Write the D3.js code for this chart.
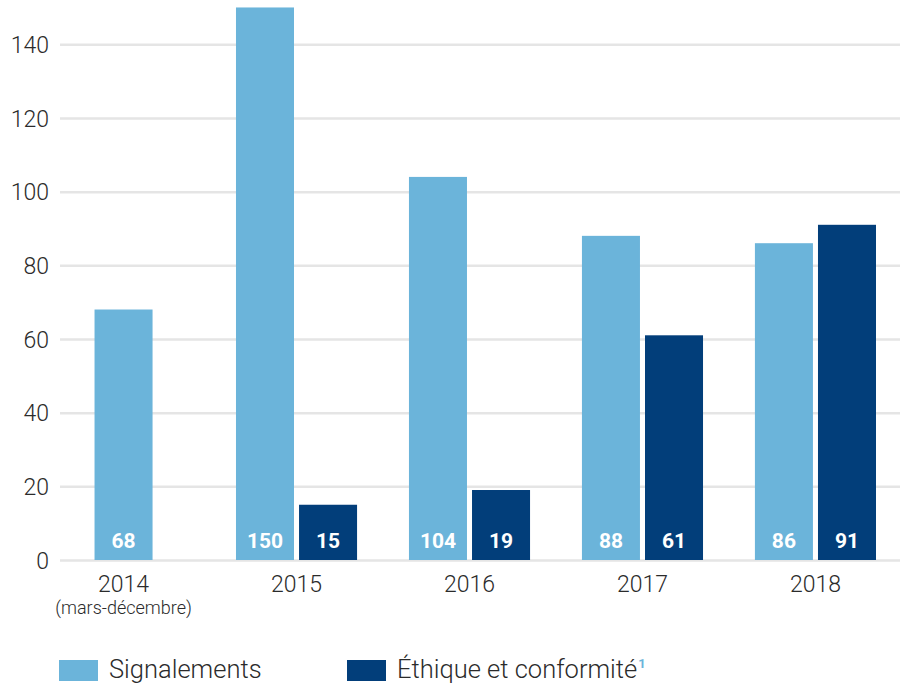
<!DOCTYPE html>
<html>
<head>
<meta charset="utf-8">
<script src="https://cdn.jsdelivr.net/npm/d3@7"></script>
<style>
  html, body { margin: 0; padding: 0; background: #fff; }
  svg { display: block; font-family: Roboto, "Open Sans", sans-serif; }
</style>
</head>
<body>
<svg id="chart" width="900" height="683"></svg>
<script>
// Report volumes per year, two series
const years = ["2014", "2015", "2016", "2017", "2018"];
const yearNotes = ["(mars-décembre)", "", "", "", ""];
const seriesNames = ["Signalements", "Éthique et conformité"];
const signalements = [68, 150, 104, 88, 86];
const ethique = [null, 15, 19, 61, 91];
const yTicks = [0, 20, 40, 60, 80, 100, 120, 140];
const colors = ["#6bb4da", "#023e7a"];

const svg = d3.select("#chart");

const y = d3.scaleLinear().domain([0, 140]).range([560, 44.3]);
const x = d3.scaleBand().domain(years).range([63, 876]).paddingInner(0.3).paddingOuter(0);
const xSub = d3.scaleBand().domain(seriesNames).range([0, x.bandwidth()]).paddingInner(0.08).paddingOuter(0);

// horizontal grid
const grid = svg.append("g")
  .attr("transform", "translate(60,0)")
  .call(d3.axisLeft(y).tickValues(yTicks).tickSize(-840).tickFormat(""));
grid.select(".domain").remove();
grid.selectAll(".tick line").attr("stroke", "#e5e5e5").attr("stroke-width", 2.5);

// y tick labels
const yAxis = svg.append("g")
  .attr("transform", "translate(49,0)")
  .call(d3.axisLeft(y).tickValues(yTicks).tickSize(0).tickPadding(0));
yAxis.select(".domain").remove();
yAxis.selectAll("text")
  .attr("font-family", "Roboto, sans-serif")
  .attr("font-weight", 300)
  .attr("font-size", 23)
  .attr("fill", "#2b2b2b")
  .attr("dy", "0.36em");

// bars
const rows = years.map((yr, i) => ({
  year: yr,
  values: [
    { name: seriesNames[0], value: signalements[i] },
    { name: seriesNames[1], value: ethique[i] }
  ].filter(d => d.value !== null)
}));

const groups = svg.append("g").selectAll("g.year")
  .data(rows).join("g")
  .attr("class", "year")
  .attr("transform", d => {
    // a year with a single series keeps its bar centred in the band
    const shift = d.values.length === 1 ? (x.bandwidth() - xSub.bandwidth()) / 2 : 0;
    return `translate(${x(d.year) + shift},0)`;
  });

groups.selectAll("rect")
  .data(d => d.values.map(v => ({ ...v, single: d.values.length === 1 })))
  .join("rect")
  .attr("x", d => d.single ? 0 : xSub(d.name))
  .attr("y", d => y(d.value))
  .attr("width", xSub.bandwidth())
  .attr("height", d => y(0) - y(d.value))
  .attr("fill", d => colors[seriesNames.indexOf(d.name)]);

groups.selectAll("text.val")
  .data(d => d.values.map(v => ({ ...v, single: d.values.length === 1 })))
  .join("text")
  .attr("class", "val")
  .attr("x", d => (d.single ? 0 : xSub(d.name)) + xSub.bandwidth() / 2)
  .attr("y", y(0) - 12)
  .attr("text-anchor", "middle")
  .attr("font-family", "Roboto, sans-serif")
  .attr("font-weight", 700)
  .attr("font-size", 21)
  .attr("fill", "#fff")
  .text(d => d.value);

// x labels
const xLab = svg.append("g");
xLab.selectAll("text.yr")
  .data(years).join("text")
  .attr("class", "yr")
  .attr("x", yr => x(yr) + x.bandwidth() / 2)
  .attr("y", 592)
  .attr("text-anchor", "middle")
  .attr("font-family", "Roboto, sans-serif")
  .attr("font-weight", 300)
  .attr("font-size", 23)
  .attr("fill", "#2b2b2b")
  .text(d => d);

xLab.selectAll("text.note")
  .data(years.map((yr, i) => ({ yr, note: yearNotes[i] })).filter(d => d.note))
  .join("text")
  .attr("class", "note")
  .attr("x", d => x(d.yr) + x.bandwidth() / 2)
  .attr("y", 614)
  .attr("text-anchor", "middle")
  .attr("font-family", "Roboto, sans-serif")
  .attr("font-weight", 300)
  .attr("font-size", 18)
  .attr("fill", "#2b2b2b")
  .text(d => d.note);

// legend
const legendX = [59, 347];
const legend = svg.append("g");
seriesNames.forEach((name, i) => {
  const g = legend.append("g").attr("transform", `translate(${legendX[i]},660)`);
  g.append("rect").attr("width", 39).attr("height", 21).attr("fill", colors[i]);
  const t = g.append("text")
    .attr("x", 50).attr("y", 17.5)
    .attr("font-family", "Roboto, sans-serif")
    .attr("font-weight", 300)
    .attr("font-size", 25.5)
    .attr("fill", "#2b2b2b")
    .text(name);
  if (i === 1) {
    t.append("tspan")
      .attr("dx", 1)
      .attr("dy", -10)
      .attr("font-size", 13)
      .attr("font-weight", 700)
      .attr("fill", colors[0])
      .text("1");
  }
});
</script>
</body>
</html>
